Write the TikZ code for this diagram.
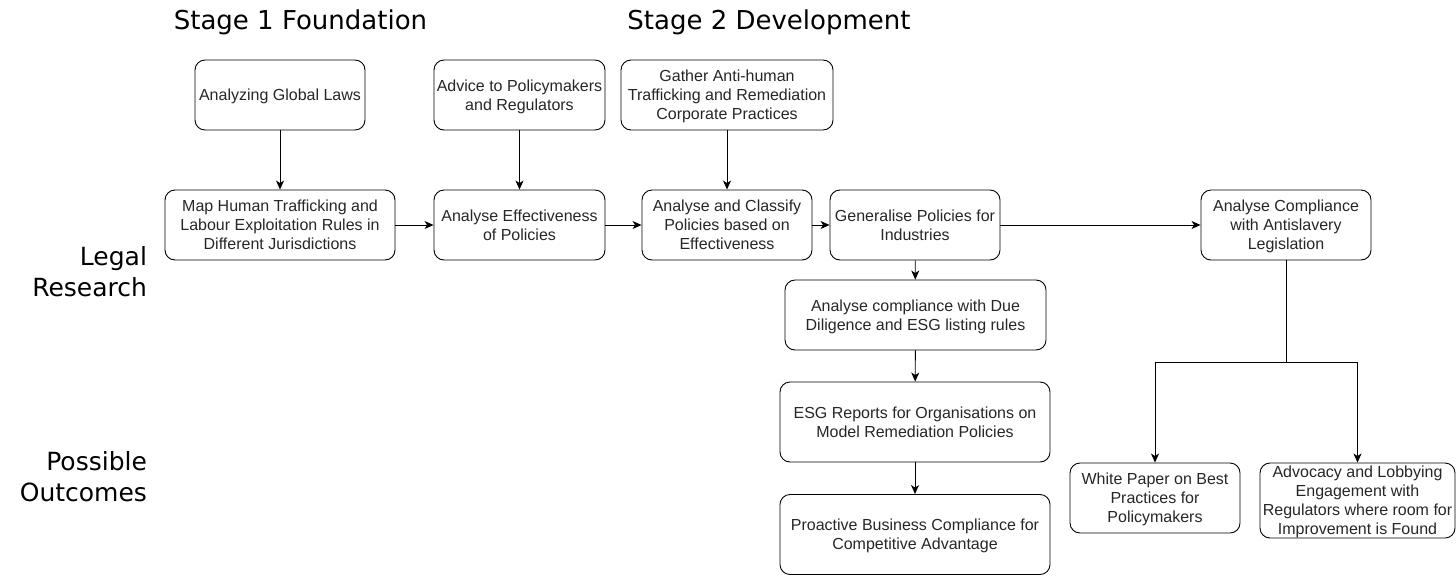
\documentclass[tikz,border=0pt]{standalone}
\usepackage{fontspec}
\setmainfont{Liberation Sans}
\newfontfamily\titlefont{DejaVu Sans}
\usetikzlibrary{arrows.meta}
\tikzset{
  box/.style={draw=black, line width=0.9pt, rounded corners=10pt, align=center,
    inner sep=0pt, text depth=0pt, font=\fontsize{16}{19}\selectfont, text=black!85},
  conn/.style={draw=black, line width=0.9pt, -{Stealth[length=9pt,width=8pt,inset=2.5pt]}},
  line/.style={draw=black, line width=0.9pt},
  title/.style={font=\titlefont\fontsize{26}{30}\selectfont, anchor=center},
  side/.style={font=\titlefont\fontsize{25}{31}\selectfont, align=right, anchor=east},
}
\begin{document}
\begin{tikzpicture}[x=1pt,y=-1pt]
\useasboundingbox (0,0) rectangle (1456,576);

\node[title] (t1) at (300.5,22) {Stage 1 Foundation};
\node[title] (t2) at (769,22) {Stage 2 Development};
\node[side] (s1) at (150.5,272) {Legal\\Research};
\node[side] (s2) at (150.5,477) {Possible\\Outcomes};

\node[box, minimum width=170pt, minimum height=70pt] (a1) at (280,95) {Analyzing Global Laws};
\node[box, minimum width=171pt, minimum height=70pt] (a2) at (519.5,95) {Advice to Policymakers\\and Regulators};
\node[box, minimum width=212pt, minimum height=70pt] (a3) at (727,95) {Gather Anti-human\\Trafficking and Remediation\\Corporate Practices};

\node[box, minimum width=230pt, minimum height=70pt] (b1) at (280,225) {Map Human Trafficking and\\Labour Exploitation Rules in\\Different Jurisdictions};
\node[box, minimum width=171pt, minimum height=70pt] (b2) at (519.5,225) {Analyse Effectiveness\\of Policies};
\node[box, minimum width=170pt, minimum height=70pt] (b3) at (727,225) {Analyse and Classify\\Policies based on\\Effectiveness};
\node[box, minimum width=170pt, minimum height=70pt] (b4) at (915,225) {Generalise Policies for\\Industries};
\node[box, minimum width=170pt, minimum height=70pt] (b5) at (1286,225) {Analyse Compliance\\with Antislavery\\Legislation};

\node[box, minimum width=261pt, minimum height=70pt] (c1) at (915.5,315) {Analyse compliance with Due\\Diligence and ESG listing rules};
\node[box, minimum width=270pt, minimum height=80pt] (c2) at (915,422) {ESG Reports for Organisations on\\Model Remediation Policies};
\node[box, minimum width=270pt, minimum height=80pt] (c3) at (915,534.5) {Proactive Business Compliance for\\Competitive Advantage};

\node[box, minimum width=170pt, minimum height=70pt] (d1) at (1155,498) {White Paper on Best\\Practices for\\Policymakers};
\node[box, minimum width=195pt, minimum height=75pt] (d2) at (1357.5,500.5) {Advocacy and Lobbying\\Engagement with\\Regulators where room for\\Improvement is Found};

\coordinate (j) at (1286,362);

\draw[conn] (a1) -- (b1);
\draw[conn] (a2) -- (b2);
\draw[conn] (a3) -- (b3);
\draw[conn] (b1) -- (b2);
\draw[conn] (b2) -- (b3);
\draw[conn] (b3) -- (b4);
\draw[conn] (b4) -- (b5);
\draw[conn] (b4) -- (c1);
\draw[conn] (c1) -- (c2);
\draw[conn] (c2) -- (c3);
\draw[line] (b5) -- (j);
\draw[conn] (j) -| (d1);
\draw[conn] (j) -| (d2);
\end{tikzpicture}
\end{document}
